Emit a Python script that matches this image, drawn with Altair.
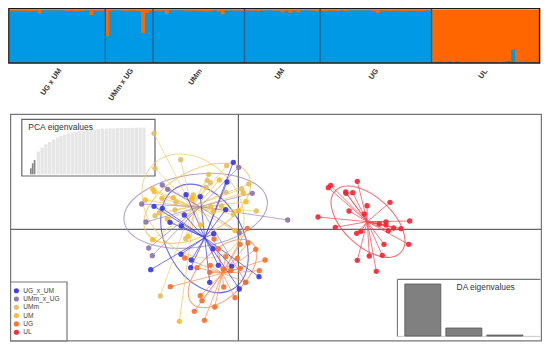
import altair as alt
import pandas as pd

W, H = 534, 334
FONT = "Liberation Sans"

# ---------- STRUCTURE barplot: minority share per individual ----------
group_labels = ["UG x UM", "UMm x UG", "UMm", "UM", "UG", "UL"]
orange_ug_um = [.02, .02, .02, .02, .028, .028, .02, .08, .012, .012, .012, .012, .012, .012, .028, .02, .03, .03, .02, .012, .1, .02, .02, .02]
orange_umm_ug = [.5, .02, .012, .012, .02, .02, .02, .02, .03, .44, .06, .02]
orange_umm = [.02, .02, .02, .08, .012, .012, .012, .012, .02, .02, .02, .028, .03, .035, .03, .012, .035, .09, .02, .012, .02, .02, .02]
orange_um = [.02, .02, .02, .03, .012, .012, .012, .02, .02, .05, .02, .06, .02, .05, .012, .012, .02, .02, .028]
orange_ug = [.02, .028, .02, .02, .028, .012, .028, .012, .012, .012, .012, .012, .012, .02, .06, .02, .02, .028, .02, .02, .028, .028, .02, .02, .028, .03, .02, .012]
blue_ul = [.005, .015, .015, .005, .03, .005, .025, .005, .005, .01, .005, .005, .005, .01, .005, .01, .005, .005, .02, .035, .25, .005, .005, .005, .005, .005, .005]
label_x = [10.45, 28, 46.7, 67.9, 91.5, 119]
label_y = [82, 84.7, 77, 74, 74.3, 74]

# ---------- DAPC groups: discriminant scores ----------
names = ["UG_x_UM", "UMm_x_UG", "UMm", "UM", "UG", "UL"]
colors = ["#3333f2", "#8a72ae", "#e3bf5d", "#fdb927", "#ff6a22", "#f8202f"]
line_colors = ["#3a3af0", "#9a86bb", "#f0cd78", "#fdc04a", "#ff8a50", "#f8404a"]

ug_um_x = [-4.7, -11, -52, -37.7, -84, -75.7, -12.3, -53.7, -68, -56.7, -24.3, -57, -46.7, -87.3, -47.3, -25, -19.7, -6.3, 21, -28.3, 1.3]
ug_um_y = [66.7, 47, 34.3, 32.3, 22.7, 20.7, 19.3, 14, 6.7, 3, -4.7, -25.3, -31, -40.7, -38.7, -19.7, -36.3, -37.3, -47.7, -53.3, -60]
umm_ug_x = [0.7, -75.7, -70.3, 14.3, -96.3, -92, 49.7, 1.3, -89.3, -85.7, 7.7]
umm_ug_y = [61.7, 44, 39.7, 35.7, 25, 7, 9, -3.7, -19, -26.7, -53.3]
umm_x = [-84, -57.3, -83, -11.3, -29.3, -30.7, -27.7, 10.7, -32, 3.7, -12, -44.7, -62, -63, -78.7, -83, -27.3, -16.3, -4.7, 18.3, -52.3, -77.7]
umm_y = [95.7, 69.3, 60.7, 63.3, 54.7, 48.7, 46.3, 45, 41.7, 40, 36.7, 34, 26.7, 19, 16.3, 13.3, 22.3, 23, 14.7, 18, -9.7, -67]
um_x = [-18.7, 5.3, 8, -85.3, -83.7, -76, -92.7, -64.7, -46.3, -45.3, 0.3, -70.7, -37.3, -3, -85.3, -50, -58.7, -24.7]
um_y = [49, 36, 27.3, 40, 37.3, 30.7, 29, 31.3, 29.7, 31.7, 18.3, 10, 4, -1.7, -10.7, -7.3, -92.3, 17.3]
ug_x = [-24, -19.7, -12.3, -0.7, -53.3, -41, -27.7, -28.3, 2, 10, 17.7, 9.3, 27, 2.3, 21.3, -14.7, -7.3, -67.7, -14.3, -37.7, -36, -43.7, -23.3, -3, -33.7, 7.7]
ug_y = [-10, -20, -27.7, -29.3, -29, -38.7, -36.3, -43.3, -15.3, -14, -20.3, 0.7, -31, -39.3, -41.7, -40, -41.7, -57.7, -58, -66.7, -71.7, -82.3, -78, -68.7, -91.3, -53.3]
ul_x = [119.3, 92.7, 90.3, 107.7, 108, 114.7, 129, 152, 111, 126.3, 80, 97.3, 118.7, 123, 141.3, 148, 148, 171.7, 150.3, 155.7, 163, 170.7, 146, 119.3, 131.3, 144.3, 138.3]
ul_y = [47.7, 43.7, 41.3, 37, 35.7, 36.3, 23.3, 26.7, 18, 15, 12, 1.7, -4.3, -2.3, 5, 7, 4, 8, -1.7, 1, 0.3, -15.3, -15.3, -31.3, -27, -26.3, -42.3]
centroid_x = [-33.3, -38, -46.3, -43, -15.7, 129.3]
centroid_y = [-8.7, 22.3, 22.3, 20.7, -44.3, 7.3]

# inertia ellipses: centre, half axes, clockwise tilt
ell_cx = [-33.5, -42.3, -45, -40.7, -15.5, 130]
ell_cy = [-9.5, 18.2, 23, 25.7, -44.5, 7.3]
ell_a = [58, 72.3, 57.7, 58.5, 42.7, 45]
ell_b = [38.6, 36.4, 44.4, 32, 22.8, 24.6]
ell_tilt = [61.5, 351.7, 47, 330.5, 315, 43]

# ---------- insets ----------
pca_eig = [6, 11, 14.3, 22.7, 26.7, 30, 32.3, 34.7, 36.7, 38.3, 39.7, 40.7, 41.7, 42.3, 43, 43.7, 44.3, 44.7, 45, 45.3, 45.7, 45.8, 46, 46, 46.3, 46.3, 46.4, 46.5, 46.5, 46.6, 46.6, 46.6]
pca_retained = 3
da_eig = [52, 8, 1]

# ---------- tables ----------
minority_groups = [orange_ug_um, orange_umm_ug, orange_umm, orange_um, orange_ug, blue_ul]
bar_rows, bounds, s = [], [], 0
for gi, g in enumerate(minority_groups):
    ul = gi == 5
    bar_rows.append(dict(a=s, b=s + len(g), lo=0, hi=1, k="orange" if ul else "blue"))
    for j, v in enumerate(g):
        if ul:
            bar_rows.append(dict(a=s + j, b=s + j + 1, lo=0, hi=v, k="blue"))
        else:
            bar_rows.append(dict(a=s + j, b=s + j + 1, lo=1 - v, hi=1, k="orange"))
    s += len(g)
    if not ul:
        bounds.append(s)
bars_df = pd.DataFrame(bar_rows)
N = s

pts_x = [ug_um_x, umm_ug_x, umm_x, um_x, ug_x, ul_x]
pts_y = [ug_um_y, umm_ug_y, umm_y, um_y, ug_y, ul_y]


def X(f="x"):
    return alt.X(f"{f}:Q", scale=alt.Scale(domain=[-230, 304], range=[0, W], nice=False, zero=False), axis=None)


def Y(f="y"):
    return alt.Y(f"{f}:Q", scale=alt.Scale(domain=[221, 221 - H], range=[0, H], nice=False, zero=False), axis=None)


def box(x0, x1, y0, y1, stroke, sw=1.2, fill="white", op=1):
    # frame drawn in page pixels, minus the 8px body margin
    return alt.Chart(pd.DataFrame({"a": [0]})).mark_rect(
        stroke=stroke, strokeWidth=sw, fill=fill, fillOpacity=op
    ).encode(x=alt.value(x0 - 8), x2=alt.value(x1 - 8), y=alt.value(y0 - 8), y2=alt.value(y1 - 8))


def hv(x0, x1, y0, y1, color, sw):
    return alt.Chart(pd.DataFrame({"a": [0]})).mark_rule(color=color, strokeWidth=sw).encode(
        x=alt.value(x0 - 8), x2=alt.value(x1 - 8), y=alt.value(y0 - 8), y2=alt.value(y1 - 8))


layers = []

# --- top structure plot
bar_x = alt.Scale(domain=[0, N], range=[1.7, 531], nice=False, zero=False)
bar_y = alt.Scale(domain=[0, 1], range=[54.8, 1.7], nice=False, zero=False)
layers.append(alt.Chart(bars_df).mark_rect().encode(
    x=alt.X("a:Q", scale=bar_x, axis=None), x2="b:Q",
    y=alt.Y("lo:Q", scale=bar_y, axis=None), y2="hi:Q",
    color=alt.Color("k:N", scale=alt.Scale(domain=["blue", "orange"], range=["#0099e6", "#ff6600"]), legend=None),
))
layers.append(alt.Chart(pd.DataFrame({"b": bounds})).mark_rule(color="#1b5f8e", strokeWidth=1.3).encode(
    x=alt.X("b:Q", scale=bar_x, axis=None), y=alt.value(1), y2=alt.value(55)))
layers.append(box(8.9, 539.6, 8.6, 63, "#1a1a1a", 1.5, fill="white", op=0))
layers.append(alt.Chart(pd.DataFrame({"t": group_labels, "x": label_x, "y": label_y})).mark_text(
    angle=305, fontSize=7.4, font=FONT, fontWeight="bold", color="#3a3a3a", align="center", baseline="middle"
).encode(
    x=alt.X("x:Q", scale=bar_x, axis=None),
    y=alt.Y("y:Q", scale=alt.Scale(domain=[8, 8 + H], range=[0, H], nice=False, zero=False), axis=None),
    text="t:N"))

# --- scatter frame and axes
layers.append(box(10.6, 541.4, 114.4, 340.8, "#777777", 1.2))
layers.append(hv(238.4, 238.4, 114.4, 340.8, "#666666", 1.2))
layers.append(hv(10.6, 541.4, 229.4, 229.4, "#666666", 1.2))

# --- PCA eigenvalue inset: retained axes are narrow and close, the others wider
pca_df = pd.DataFrame({"i": [j if j < pca_retained else 2 * j - 2 for j in range(len(pca_eig))], "v": pca_eig})
pca_x = alt.X("i:Q", scale=alt.Scale(domain=[0, 60], range=[17.8, 141], nice=False, zero=False), axis=None)
pca_y = alt.Y("v:Q", scale=alt.Scale(domain=[0, 46.6], range=[166.3, 119.7], nice=False), axis=None)
layers.append(box(21.8, 155, 119.4, 176, "#666666", 1.2))
layers.append(alt.Chart(pca_df.iloc[pca_retained:]).mark_bar(size=3.3, color="#e6e6e6").encode(x=pca_x, y=pca_y))
layers.append(alt.Chart(pca_df.iloc[:pca_retained]).mark_bar(size=1.7, color="#858585").encode(x=pca_x, y=pca_y))
layers.append(alt.Chart(pd.DataFrame({"t": ["PCA eigenvalues"]})).mark_text(
    fontSize=8.5, font=FONT, color="#333333", align="left", baseline="middle"
).encode(x=alt.value(20.3), y=alt.value(119.2), text="t:N"))

# --- DA eigenvalue inset
layers.append(hv(397.4, 397.4, 279.4, 336.4, "#777777", 1.1))
layers.append(hv(397.4, 540.4, 279.4, 279.4, "#777777", 1.1))
layers.append(hv(397.4, 540.4, 336.4, 336.4, "#bbbbbb", 0.8))
da_df = pd.DataFrame({"i": [1, 2, 3], "v": da_eig})
layers.append(alt.Chart(da_df).mark_bar(size=36, fill="#808080", stroke="#555555", strokeWidth=0.8).encode(
    x=alt.X("i:Q", scale=alt.Scale(domain=[0, 4], range=[368.8, 542.9], nice=False, zero=False), axis=None),
    y=alt.Y("v:Q", scale=alt.Scale(domain=[0, 52], range=[328, 276], nice=False), axis=None)))
layers.append(alt.Chart(pd.DataFrame({"t": ["DA eigenvalues"]})).mark_text(
    fontSize=8.4, font=FONT, color="#333333", align="center", baseline="middle"
).encode(x=alt.value(477.7), y=alt.value(278.7), text="t:N"))

# --- ellipses: one symbol each, its path holding the half axes (size 4 = unit scale)
for g in range(6):
    a, b = ell_a[g], ell_b[g]
    path = f"M{-a},0A{a},{b} 0 1,1 {a},0A{a},{b} 0 1,1 {-a},0Z"
    df = pd.DataFrame({"x": [ell_cx[g]], "y": [ell_cy[g]]})
    layers.append(alt.Chart(df).mark_point(
        shape=path, size=4, angle=ell_tilt[g], filled=False, fill=None, color=line_colors[g],
        strokeWidth=1.1, opacity=0.75
    ).encode(x=X(), y=Y()))

# --- spider lines, last group first
for g in [5, 4, 3, 2, 1, 0]:
    df = pd.DataFrame({"x": pts_x[g], "y": pts_y[g]})
    df["cx"] = centroid_x[g]
    df["cy"] = centroid_y[g]
    layers.append(alt.Chart(df).mark_rule(color=line_colors[g], strokeWidth=1, opacity=0.7).encode(
        x=X("cx"), y=Y("cy"), x2="x:Q", y2="y:Q"))

# --- points
for g in [2, 3, 1, 0, 4, 5]:
    df = pd.DataFrame({"x": pts_x[g], "y": pts_y[g]})
    layers.append(alt.Chart(df).mark_circle(size=28, color=colors[g], opacity=0.9).encode(x=X(), y=Y()))

# --- legend
layers.append(box(10.6, 67, 282, 340.8, "#777777", 1.2))
leg_df = pd.DataFrame({"n": names, "c": colors})
leg_y = alt.Y("n:N", sort=names, scale=alt.Scale(domain=names, range=[282.7, 324.2], type="point", padding=0), axis=None)
layers.append(alt.Chart(leg_df).mark_circle(size=26, opacity=0.95).encode(
    x=alt.value(8.4), y=leg_y,
    color=alt.Color("n:N", scale=alt.Scale(domain=names, range=colors), legend=None)))
layers.append(alt.Chart(leg_df).mark_text(
    fontSize=6.6, font=FONT, color="#444444", align="left", baseline="middle"
).encode(x=alt.value(15.3), y=leg_y, text="n:N"))

chart = alt.layer(*layers).resolve_scale(x="independent", y="independent", color="independent").properties(
    width=W, height=H, padding=0, autosize=alt.AutoSizeParams(type="none"),
    background="white"
).configure_view(stroke=None)

chart.save("out.html", embed_options={"renderer": "svg", "actions": False})
